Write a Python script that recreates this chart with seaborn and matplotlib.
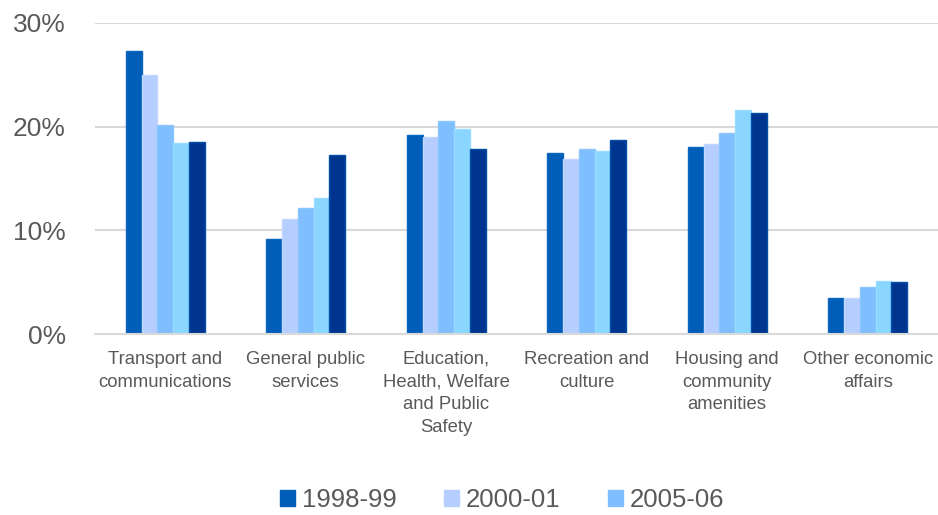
import matplotlib
matplotlib.use("Agg")
import matplotlib.pyplot as plt
from matplotlib.patches import Patch
import seaborn as sns
import pandas as pd

categories = [
    "Transport and\ncommunications",
    "General public\nservices",
    "Education,\nHealth, Welfare\nand Public\nSafety",
    "Recreation and\nculture",
    "Housing and\ncommunity\namenities",
    "Other economic\naffairs",
]
years = ["1998-99", "2000-01", "2005-06", "Series 4", "Series 5"]
legend_years = ["1998-99", "2000-01", "2005-06"]

v_1998 = [27.3, 9.2, 19.2, 17.5, 18.0, 3.5]
v_2000 = [25.0, 11.1, 19.0, 16.9, 18.3, 3.5]
v_2005 = [20.2, 12.2, 20.5, 17.8, 19.4, 4.5]
v_s4 = [18.4, 13.1, 19.8, 17.7, 21.6, 5.1]
v_s5 = [18.5, 17.3, 17.8, 18.7, 21.3, 5.0]
series = [v_1998, v_2000, v_2005, v_s4, v_s5]

yticks = [0, 10, 20, 30]
ytick_labels = ["0%", "10%", "20%", "30%"]

colors = ["#005EB8", "#B5CDFF", "#7FBFFF", "#8AD6FF", "#00358F"]
edges = ["#0A66C0", "#C2D6FF", "#8CC6FF", "#9ADCFF", "#0050A8"]

rows = []
for yr, vals in zip(years, series):
    for c, v in zip(categories, vals):
        rows.append({"category": c, "year": yr, "value": v})
df = pd.DataFrame(rows)

sns.set_theme(style="white")
plt.rcParams["font.family"] = ["Liberation Sans", "DejaVu Sans"]

fig = plt.figure(figsize=(9.38, 5.15), dpi=100)
ax = fig.add_axes([95 / 938, 181 / 515, 843 / 938, (334 - 23) / 515])

sns.barplot(data=df, x="category", y="value", hue="year", hue_order=years,
            order=categories, palette=colors, width=0.56, ax=ax, legend=False,
            saturation=1, errorbar=None)

for cont, ec in zip(ax.containers, edges):
    for p in cont:
        p.set_edgecolor(ec)
        p.set_linewidth(1.0)

ax.set_ylim(0, 30)
ax.set_xlim(-0.5, len(categories) - 0.5)
ax.set_yticks(yticks)
ax.set_yticklabels(ytick_labels)
ax.grid(axis="y", color="#D9D9D9", linewidth=1.5)
ax.set_axisbelow(True)
for s in ["top", "right", "left"]:
    ax.spines[s].set_visible(False)
ax.spines["bottom"].set_color("#D9D9D9")
ax.spines["bottom"].set_linewidth(1.5)
ax.set_xlabel("")
ax.set_ylabel("")
ax.tick_params(axis="y", length=0, pad=21, labelsize=19, labelcolor="#595959")
ax.tick_params(axis="x", length=0, pad=12, labelsize=13.3, labelcolor="#595959")
for t in ax.get_xticklabels():
    t.set_linespacing(1.45)

handles = [Patch(facecolor=colors[i], edgecolor=colors[i]) for i in range(3)]
fig.legend(handles, legend_years, loc="center", bbox_to_anchor=(502 / 938, 1 - 500 / 515),
           ncol=3, frameon=False, fontsize=18.5, labelcolor="#595959",
           handlelength=0.6, handleheight=0.6, handletextpad=0.25,
           columnspacing=1.85, borderpad=0, borderaxespad=0)

fig.savefig("out.png", dpi=100)
